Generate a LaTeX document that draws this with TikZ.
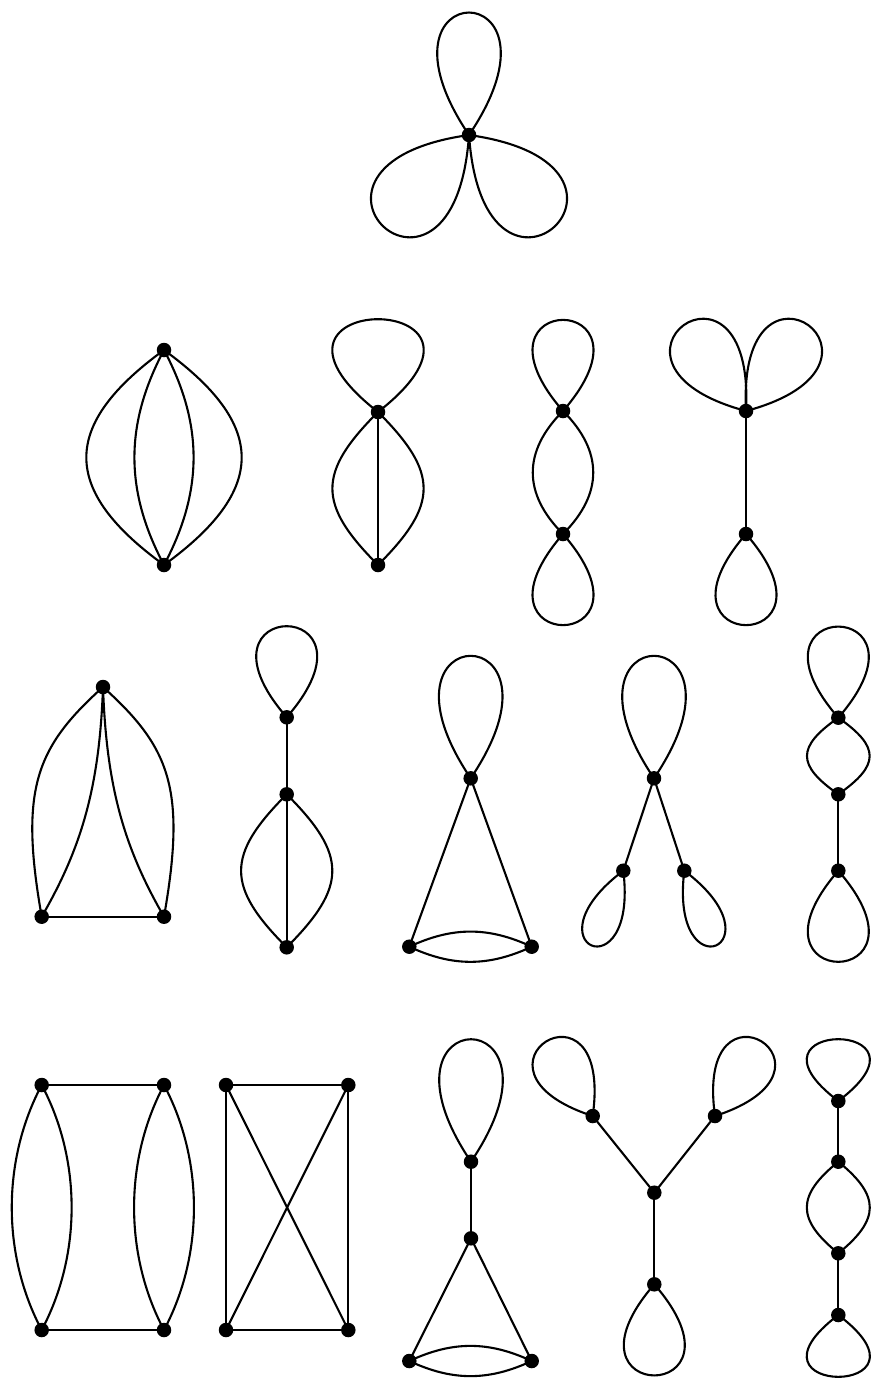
\documentclass[tikz,border=0pt]{standalone}
\begin{document}
\begin{tikzpicture}[x=1pt,y=1pt,line width=2.1pt,
  v/.style={circle,fill=black,inner sep=0pt,minimum size=14.5pt},
  lp/.style n args={3}{out=#1,in=#2,distance=#3pt},
  bl/.style 2 args={bend left=#1,distance=#2pt},
  br/.style 2 args={bend right=#1,distance=#2pt}]
\useasboundingbox (0,0) rectangle (875,-1384);
% graph 1
\node[v] (g1) at (469,-135) {};
\draw (g1.center) to[lp={124}{56}{197}] (g1.center);
\draw (g1.center) to[lp={266}{188}{215}] (g1.center);
\draw (g1.center) to[lp={352}{274}{215}] (g1.center);
% graph 2a
\node[v] (a1) at (164,-350) {};
\node[v] (a2) at (164,-565) {};
\draw (a1.center) to[bl={54}{128}] (a2.center);
\draw (a1.center) to[br={54}{128}] (a2.center);
\draw (a1.center) to[bl={28}{84}] (a2.center);
\draw (a1.center) to[br={28}{84}] (a2.center);
% graph 2b
\node[v] (b1) at (378,-412) {};
\node[v] (b2) at (378,-565) {};
\draw (b1.center) to[lp={142}{38}{201}] (b1.center);
\draw (b1.center) -- (b2.center);
\draw (b1.center) to[bl={45}{86}] (b2.center);
\draw (b1.center) to[br={45}{86}] (b2.center);
% graph 2c
\node[v] (c1) at (563,-411) {};
\node[v] (c2) at (563,-534) {};
\draw (c1.center) to[lp={131}{49}{161}] (c1.center);
\draw (c2.center) to[lp={311}{229}{161}] (c2.center);
\draw (c1.center) to[bl={45}{57}] (c2.center);
\draw (c1.center) to[br={45}{57}] (c2.center);
% graph 2d
\node[v] (d1) at (746,-411) {};
\node[v] (d2) at (746,-534) {};
\draw (d1.center) -- (d2.center);
\draw (d2.center) to[lp={311}{229}{161}] (d2.center);
\draw (d1.center) to[lp={165}{87}{182}] (d1.center);
\draw (d1.center) to[lp={93}{15}{182}] (d1.center);
% graph 3a
\node[v] (e1) at (103,-687) {};
\node[v] (e2) at (41.7,-916.7) {};
\node[v] (e3) at (164,-916.7) {};
\draw (e2.center) -- (e3.center);
\draw (e1.center) to[out=222,in=100,out distance=90pt,in distance=130pt] (e2.center);
\draw (e1.center) to[out=268,in=60,out distance=100pt,in distance=80pt] (e2.center);
\draw (e1.center) to[out=318,in=80,out distance=90pt,in distance=130pt] (e3.center);
\draw (e1.center) to[out=272,in=120,out distance=100pt,in distance=80pt] (e3.center);
% graph 3b
\node[v] (f1) at (286.7,-717.3) {};
\node[v] (f2) at (286.7,-794.3) {};
\node[v] (f3) at (286.7,-947.3) {};
\draw (f1.center) to[lp={131}{49}{161}] (f1.center);
\draw (f1.center) -- (f2.center);
\draw (f2.center) -- (f3.center);
\draw (f2.center) to[bl={45}{86}] (f3.center);
\draw (f2.center) to[br={45}{86}] (f3.center);
% graph 3c
\node[v] (h1) at (470.7,-778.3) {};
\node[v] (h2) at (409.3,-946.7) {};
\node[v] (h3) at (531.7,-946.7) {};
\draw (h1.center) to[lp={124}{56}{197}] (h1.center);
\draw (h1.center) -- (h2.center);
\draw (h1.center) -- (h3.center);
\draw (h2.center) to[bend left=25] (h3.center);
\draw (h2.center) to[bend right=25] (h3.center);
% graph 3d
\node[v] (i1) at (654,-778.3) {};
\node[v] (i2) at (623.3,-870.7) {};
\node[v] (i3) at (684.3,-870.7) {};
\draw (i1.center) to[lp={124}{56}{197}] (i1.center);
\draw (i1.center) -- (i2.center);
\draw (i1.center) -- (i3.center);
\draw (i2.center) to[lp={277}{217}{125}] (i2.center);
\draw (i3.center) to[lp={323}{263}{125}] (i3.center);
% graph 3e
\node[v] (j1) at (838.3,-717.7) {};
\node[v] (j2) at (838.3,-794.3) {};
\node[v] (j3) at (838.3,-870.7) {};
\draw (j1.center) to[lp={131}{49}{161}] (j1.center);
\draw (j1.center) to[bl={55}{51}] (j2.center);
\draw (j1.center) to[br={55}{51}] (j2.center);
\draw (j2.center) -- (j3.center);
\draw (j3.center) to[lp={311}{229}{161}] (j3.center);
% graph 4a
\node[v] (k1) at (41.7,-1085) {};
\node[v] (k2) at (164,-1085) {};
\node[v] (k3) at (41.7,-1330) {};
\node[v] (k4) at (164,-1330) {};
\draw (k1.center) -- (k2.center);
\draw (k3.center) -- (k4.center);
\draw (k1.center) to[bl={28}{85}] (k3.center);
\draw (k1.center) to[br={28}{85}] (k3.center);
\draw (k2.center) to[bl={28}{85}] (k4.center);
\draw (k2.center) to[br={28}{85}] (k4.center);
% graph 4b
\node[v] (l1) at (226,-1085) {};
\node[v] (l2) at (348.3,-1085) {};
\node[v] (l3) at (226,-1330) {};
\node[v] (l4) at (348.3,-1330) {};
\draw (l1.center) -- (l2.center) -- (l4.center) -- (l3.center) -- cycle;
\draw (l1.center) -- (l4.center);
\draw (l2.center) -- (l3.center);
% graph 4c
\node[v] (m1) at (471,-1161.7) {};
\node[v] (m2) at (471,-1238.3) {};
\node[v] (m3) at (409.3,-1361) {};
\node[v] (m4) at (531.7,-1361) {};
\draw (m1.center) to[lp={124}{56}{197}] (m1.center);
\draw (m1.center) -- (m2.center);
\draw (m2.center) -- (m3.center);
\draw (m2.center) -- (m4.center);
\draw (m3.center) to[bend left=25] (m4.center);
\draw (m3.center) to[bend right=25] (m4.center);
% graph 4d
\node[v] (n0) at (654.3,-1192.7) {};
\node[v] (n1) at (592.7,-1116) {};
\node[v] (n2) at (715,-1116) {};
\node[v] (n3) at (654.3,-1284.3) {};
\draw (n0.center) -- (n1.center);
\draw (n0.center) -- (n2.center);
\draw (n0.center) -- (n3.center);
\draw (n3.center) to[lp={311}{229}{161}] (n3.center);
\draw (n1.center) to[lp={162}{82}{153}] (n1.center);
\draw (n2.center) to[lp={98}{18}{153}] (n2.center);
% graph 4e
\node[v] (o1) at (838.3,-1101) {};
\node[v] (o2) at (838.3,-1161.7) {};
\node[v] (o3) at (838.3,-1253.3) {};
\node[v] (o4) at (838.3,-1315) {};
\draw (o1.center) to[lp={143}{37}{137}] (o1.center);
\draw (o1.center) -- (o2.center);
\draw (o2.center) to[bl={51}{54}] (o3.center);
\draw (o2.center) to[br={51}{54}] (o3.center);
\draw (o3.center) -- (o4.center);
\draw (o4.center) to[lp={323}{217}{137}] (o4.center);
\end{tikzpicture}
\end{document}
